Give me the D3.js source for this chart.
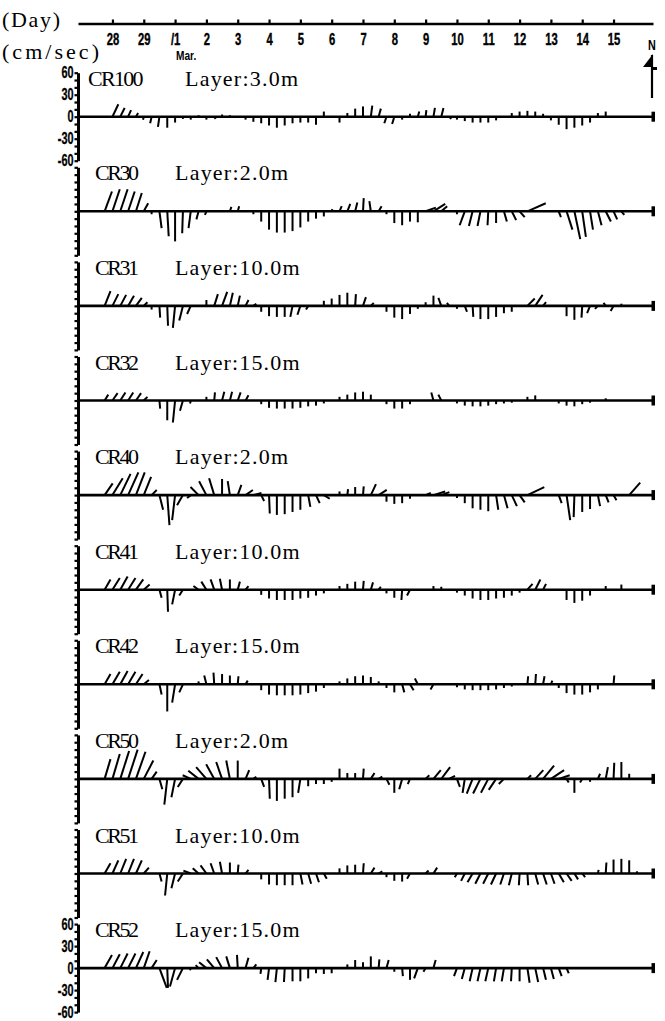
<!DOCTYPE html>
<html>
<head>
<meta charset="utf-8">
<script src="https://cdn.jsdelivr.net/npm/d3@7"></script>
<style>
body { margin: 0; background: #fff; }
svg { display: block; }
.num { font-family: "Liberation Sans", Arial, sans-serif; font-weight: bold; }
.serif { font-family: "Liberation Serif", "DejaVu Serif", serif; }
</style>
</head>
<body>
<svg></svg>
<script>
// days on the top axis (0 = 28 Feb)
let dayTicks = d3.range(0, 17)
let dayLabels = ['28', '29', '/1', '2', '3', '4', '5', '6', '7', '8', '9', '10', '11', '12', '13', '14', '15']

let stations = ['CR100', 'CR30', 'CR31', 'CR32', 'CR40', 'CR41', 'CR42', 'CR50', 'CR51', 'CR52']
let layers = ['3.0', '2.0', '10.0', '15.0', '2.0', '10.0', '15.0', '2.0', '10.0', '15.0']
let speedTicks = [60, 30, 0, -30, -60]

// current vectors: [6-hour step from 27 Feb 00h, east cm/s, north cm/s]
let cr100 = [[4,8,17],[5,6,12],[6,4,9],[7,3,5],[8,-1,-4],[9,-2,-9],[10,-2,-14],[11,0,-15],[12,0,-8],[13,0,-3],[14,0,-4],[15,0,2],[16,0,-4],[17,2,-3],[18,0,3],[19,0,2],[21,0,-4],[22,0,-7],[23,0,-9],[24,0,-12],[25,0,-15],[26,0,-12],[27,0,-9],[28,0,-8],[29,0,-8],[30,0,-11],[31,0,7],[33,0,-8],[34,0,5],[35,0,11],[36,0,14],[37,2,15],[38,3,11],[39,-3,-9],[40,-3,-10],[41,0,-4],[42,0,4],[43,2,7],[44,1,9],[45,2,12],[46,3,12],[47,3,-3],[48,0,-4],[49,0,-6],[50,0,-8],[51,0,-8],[52,0,-8],[53,0,-5],[55,0,5],[56,0,7],[57,0,8],[58,0,7],[59,0,4],[60,0,-5],[61,0,-11],[62,0,-17],[63,0,-15],[64,0,-12],[65,0,-8],[66,0,5],[67,0,7]]
let cr30 = [[3,10,27],[4,10,30],[5,10,30],[6,9,27],[7,8,25],[8,6,11],[9,0,-4],[10,3,-23],[11,2,-34],[12,0,-41],[13,-1,-30],[14,-3,-23],[15,-3,-11],[16,-2,-5],[19,2,6],[20,2,7],[22,0,-4],[23,0,-14],[24,0,-25],[25,0,-29],[26,0,-29],[27,0,-27],[28,0,-22],[29,0,-14],[30,0,-10],[31,0,-7],[32,1,3],[33,3,7],[34,4,10],[35,3,12],[36,1,18],[37,-2,14],[38,4,7],[39,0,-4],[40,0,-16],[41,0,-19],[42,0,-14],[43,0,-15],[44,14,5],[45,16,10],[46,8,7],[48,0,-4],[49,-7,-19],[50,-5,-20],[51,-4,-20],[52,-1,-19],[53,0,-16],[54,4,-14],[55,6,-12],[56,7,-8],[57,25,11],[61,3,-8],[62,8,-25],[63,8,-38],[64,5,-35],[65,4,-25],[66,5,-19],[67,7,-14],[68,5,-11],[69,4,-5]]
let cr31 = [[3,8,20],[4,8,16],[5,8,15],[6,8,14],[7,8,11],[8,5,5],[9,0,-5],[10,1,-16],[11,1,-27],[12,-3,-30],[13,-5,-20],[14,-5,-11],[16,0,8],[17,5,16],[18,7,19],[19,4,18],[20,3,14],[21,4,8],[22,4,3],[23,0,-8],[24,0,-14],[25,0,-15],[26,0,-15],[27,-3,-15],[28,-4,-12],[29,-3,-5],[31,0,7],[32,0,10],[33,0,15],[34,0,18],[35,1,16],[36,4,12],[37,4,4],[39,0,-8],[40,0,-16],[41,0,-18],[42,0,-11],[43,0,-4],[44,0,5],[45,0,14],[46,-4,11],[47,-3,4],[48,0,-4],[49,3,-8],[50,1,-15],[51,0,-18],[52,0,-18],[53,0,-15],[54,0,-10],[55,0,-8],[57,10,10],[58,10,15],[59,4,5],[62,0,-14],[63,0,-19],[64,-1,-16],[65,-4,-10],[66,-4,-4],[67,-3,4],[68,-4,-7],[69,0,3]]
let cr32 = [[3,5,8],[4,7,10],[5,7,11],[6,7,11],[7,7,10],[8,5,5],[10,1,-11],[11,0,-27],[12,-3,-30],[13,-4,-14],[14,-1,-4],[16,0,5],[17,1,11],[18,3,12],[19,3,12],[20,4,11],[21,4,7],[23,0,-5],[24,0,-10],[25,0,-11],[26,0,-11],[27,0,-11],[28,0,-10],[29,0,-8],[30,0,-7],[31,0,-4],[33,0,5],[34,0,8],[35,0,11],[36,0,12],[37,0,8],[39,0,-5],[40,0,-11],[41,0,-11],[42,0,-5],[45,-3,11],[46,-4,8],[48,0,-4],[49,0,-7],[50,0,-8],[51,0,-8],[52,0,-7],[53,0,-5],[54,0,-4],[55,0,-3],[57,0,5],[58,0,7],[61,0,-4],[62,0,-7],[63,0,-8],[64,0,-5],[65,0,-3],[67,0,3]]
let cr40 = [[3,11,16],[4,14,23],[5,14,29],[6,14,31],[7,12,31],[8,10,25],[9,7,7],[10,5,-20],[11,3,-41],[12,-4,-34],[13,-8,-14],[14,-5,-4],[15,-11,11],[16,-10,19],[17,-7,23],[18,0,22],[19,-3,19],[20,5,14],[21,10,7],[22,11,3],[23,4,-8],[24,1,-25],[25,0,-27],[26,0,-26],[27,0,-23],[28,0,-20],[29,3,-16],[30,5,-11],[31,8,-5],[33,0,5],[34,1,8],[35,0,11],[36,1,12],[37,7,15],[38,11,7],[39,0,-9],[40,0,-12],[41,0,-11],[42,0,-5],[44,7,3],[45,16,5],[46,11,4],[48,0,-4],[49,0,-11],[50,0,-18],[51,0,-20],[52,0,-22],[53,3,-20],[54,5,-18],[55,7,-15],[56,7,-10],[57,23,11],[61,4,-11],[62,5,-34],[63,-1,-30],[64,0,-23],[65,0,-19],[66,3,-15],[67,4,-10],[68,4,-7],[70,15,17]]
let cr41 = [[3,8,14],[4,10,16],[5,10,18],[6,10,16],[7,10,14],[8,8,7],[10,3,-11],[11,1,-30],[12,-4,-20],[13,-5,-8],[15,-7,5],[16,-7,11],[17,-5,14],[18,-3,15],[19,0,14],[20,3,11],[21,4,5],[23,0,-7],[24,0,-12],[25,0,-14],[26,0,-14],[27,0,-14],[28,0,-12],[29,0,-11],[30,0,-8],[31,0,-5],[33,0,5],[34,0,8],[35,0,11],[36,1,12],[37,3,10],[38,3,4],[39,0,-5],[40,0,-11],[41,-1,-14],[42,-4,-8],[45,0,5],[46,0,4],[48,0,-4],[49,0,-8],[50,0,-12],[51,0,-14],[52,0,-14],[53,0,-12],[54,0,-11],[55,0,-8],[56,0,-4],[57,7,8],[58,7,14],[59,4,8],[62,0,-14],[63,0,-18],[64,0,-15],[65,0,-8],[67,0,5],[69,0,7]]
let cr42 = [[3,8,14],[4,10,17],[5,10,18],[6,10,17],[7,9,14],[8,7,6],[10,3,-14],[11,0,-37],[12,-4,-25],[13,-5,-11],[15,0,4],[16,-3,12],[17,-1,16],[18,0,14],[19,0,12],[20,1,11],[21,3,5],[23,0,-8],[24,0,-14],[25,0,-15],[26,0,-15],[27,0,-15],[28,0,-14],[29,0,-12],[30,0,-10],[31,0,-5],[33,0,4],[34,0,8],[35,0,11],[36,0,12],[37,0,10],[38,0,4],[39,0,-5],[40,0,-11],[41,3,-11],[42,5,-8],[43,-4,8],[45,-4,-7],[48,0,-4],[49,0,-7],[50,0,-8],[51,0,-8],[52,0,-8],[53,0,-7],[54,0,-5],[55,0,-3],[57,1,11],[58,1,14],[59,2,11],[60,2,5],[61,0,-5],[62,0,-12],[63,0,-14],[64,0,-14],[65,0,-11],[66,0,-7],[68,1,12]]
let cr50 = [[3,8,27],[4,10,34],[5,12,38],[6,13,40],[7,13,37],[8,13,25],[9,7,10],[10,4,-14],[11,-4,-35],[12,-5,-25],[13,-7,-11],[14,-11,5],[15,-14,11],[16,-14,16],[17,-11,20],[18,-8,23],[19,-5,25],[20,0,25],[21,5,12],[22,4,3],[23,4,-11],[24,1,-27],[25,0,-30],[26,0,-27],[27,0,-25],[28,-3,-19],[29,0,-10],[30,0,-7],[31,0,-7],[32,0,-4],[33,0,14],[34,0,8],[35,0,8],[36,1,14],[37,5,8],[38,5,3],[39,4,-8],[40,0,-19],[41,-4,-14],[42,-3,-7],[44,5,5],[45,10,12],[46,12,16],[47,8,4],[48,4,-11],[49,-3,-19],[50,-8,-20],[51,-10,-20],[52,-10,-19],[53,-10,-15],[54,-7,-7],[57,5,5],[58,11,12],[59,15,18],[60,18,12],[61,15,5],[62,3,-5],[63,0,-19],[64,-3,-5],[65,0,-4],[66,3,7],[67,3,16],[68,1,22],[69,0,23],[70,0,7]]
let cr51 = [[3,8,14],[4,8,18],[5,8,20],[6,8,20],[7,8,18],[8,7,8],[10,3,-11],[11,-3,-30],[12,-5,-20],[13,-7,-11],[14,-10,4],[15,-8,7],[16,-8,11],[17,-5,14],[18,-3,16],[19,0,15],[20,1,12],[21,4,5],[23,0,-8],[24,0,-15],[25,0,-16],[26,0,-16],[27,0,-16],[28,3,-15],[29,4,-14],[30,4,-12],[31,4,-7],[33,0,7],[34,0,11],[35,0,12],[36,1,14],[37,5,8],[38,5,3],[39,0,-5],[40,0,-10],[41,0,-11],[42,-4,-7],[44,4,4],[45,5,8],[48,-3,-5],[49,-5,-10],[50,-7,-12],[51,-7,-14],[52,-7,-14],[53,-7,-15],[54,-5,-15],[55,-4,-16],[56,-1,-16],[57,1,-16],[58,4,-15],[59,5,-15],[60,5,-14],[61,7,-12],[62,7,-10],[63,5,-8],[64,4,-5],[66,1,5],[67,1,15],[68,0,19],[69,0,20],[70,0,18],[71,0,3]]
let cr52 = [[3,10,18],[4,10,19],[5,10,20],[6,10,20],[7,10,22],[8,8,23],[9,7,11],[10,10,-27],[11,1,-27],[12,-7,-25],[13,-8,-16],[14,-1,-3],[15,-4,4],[16,-10,8],[17,-10,12],[18,-8,15],[19,-5,16],[20,-1,18],[21,4,14],[22,4,5],[23,-1,-8],[24,-2,-16],[25,-2,-19],[26,-1,-19],[27,0,-18],[28,0,-18],[29,0,-14],[30,0,-7],[31,0,-8],[32,0,-7],[34,0,5],[35,0,11],[36,0,8],[37,0,16],[38,1,12],[39,3,11],[40,0,-5],[41,1,-11],[42,0,-16],[43,-5,-14],[44,-3,-5],[45,3,11],[48,-4,-11],[49,-4,-15],[50,-4,-18],[51,-4,-18],[52,-4,-18],[53,-3,-18],[54,-3,-18],[55,-1,-18],[56,0,-18],[57,3,-20],[58,4,-19],[59,4,-16],[60,4,-15],[61,4,-11],[62,3,-7]]

let series = [cr100, cr30, cr31, cr32, cr40, cr41, cr42, cr50, cr51, cr52]

let width = 665
let height = 1021
let half = 44 // pixels for 60 cm/sec

let svg = d3.select('svg')
    .attr('width', width)
    .attr('height', height)

let xScale = d3.scaleLinear()
    .domain([-1.1, 17.26])
    .range([78, 653])

// zero line of each panel
let panelScale = d3.scaleLinear()
    .domain([0, stations.length - 1])
    .range([116.7, 968.1])

let stepToDay = (step) => -1 + step * 0.25

// top day axis, ticks above the line and labels below
let dayAxis = d3.axisBottom(xScale)
    .tickValues(dayTicks)
    .tickFormat((d, i) => dayLabels[i])
    .tickSize(-4)
    .tickSizeOuter(0)
    .tickPadding(9)

let dayG = svg.append('g')
    .attr('transform', 'translate(0, 23.5)')
    .call(dayAxis)
dayG.select('.domain').attr('stroke-width', 2.5)
dayG.selectAll('.tick line').attr('stroke-width', 2.2)
dayG.selectAll('.tick text')
    .attr('class', 'num')
    .style('font-size', '17px')
    .attr('stroke', '#000')
    .attr('stroke-width', 0.4)
    .attr('transform', 'scale(0.66,1)')

dayG.selectAll('.endbar')
    .data(xScale.range())
    .enter()
    .append('rect')
    .attr('x', d => d - 1.5)
    .attr('y', -5)
    .attr('width', 3)
    .attr('height', 10)

svg.append('text')
    .attr('class', 'num')
    .style('font-size', '13px')
    .attr('transform', 'translate(' + (xScale(2) + 11) + ',60) scale(0.78,1)')
    .attr('text-anchor', 'middle')
    .text('Mar.')

svg.append('text')
    .attr('class', 'serif')
    .attr('font-size', 22)
    .attr('x', 2)
    .attr('y', 27)
    .attr('textLength', 58)
    .attr('lengthAdjust', 'spacing')
    .text('(Day)')

svg.append('text')
    .attr('class', 'serif')
    .attr('font-size', 22)
    .attr('x', 2)
    .attr('y', 59)
    .attr('textLength', 97)
    .attr('lengthAdjust', 'spacing')
    .text('(cm/sec)')

// north arrow
let north = svg.append('g')
north.append('text')
    .attr('class', 'num')
    .style('font-size', '15px')
    .attr('transform', 'translate(652,50) scale(0.72,1)')
    .attr('text-anchor', 'middle')
    .text('N')
north.append('line')
    .attr('x1', 652).attr('x2', 652)
    .attr('y1', 55).attr('y2', 98)
    .attr('stroke', '#000')
    .attr('stroke-width', 2.2)
north.append('path')
    .attr('d', 'M653,54 L643,67 L657,67 L657,70 L653,70 Z')
    .attr('fill', '#000')

stations.forEach((name, j) => {
    let base = panelScale(j)
    let yScale = d3.scaleLinear()
        .domain([-60, 60])
        .range([base + half, base - half])
    let zero = yScale(0)
    let labelled = j === 0 || j === stations.length - 1

    let yAxis = d3.axisLeft(yScale)
        .tickValues(d3.range(-60, 61, 10))
        .tickSize(3.5)
        .tickSizeOuter(0)
        .tickPadding(3)
        .tickFormat(d => labelled && speedTicks.includes(d) ? d : '')

    let g = svg.append('g')
        .attr('transform', 'translate(' + xScale.range()[0] + ', 0)')
        .call(yAxis)
    g.select('.domain').attr('stroke-width', 3)
    g.selectAll('.tick line').attr('stroke-width', 2.2)
    g.selectAll('.tick text')
        .attr('class', 'num')
        .style('font-size', '16px')
        .attr('stroke', '#000')
        .attr('stroke-width', 0.3)
        .attr('transform', 'scale(0.68,1)')

    // zero line
    svg.append('line')
        .attr('x1', xScale.range()[0])
        .attr('x2', xScale.range()[1])
        .attr('y1', zero)
        .attr('y2', zero)
        .attr('stroke', '#000')
        .attr('stroke-width', 2.6)
    svg.append('rect')
        .attr('x', xScale.range()[1] - 1.5)
        .attr('y', zero - 5)
        .attr('width', 3.5)
        .attr('height', 10)

    // sticks
    svg.append('g')
        .selectAll('line')
        .data(series[j])
        .enter()
        .append('line')
        .attr('x1', d => xScale(stepToDay(d[0])))
        .attr('y1', zero)
        .attr('x2', d => xScale(stepToDay(d[0])) + (zero - yScale(d[1])))
        .attr('y2', d => yScale(d[2]))
        .attr('stroke', '#000')
        .attr('stroke-width', 2)

    let nameX = j === 0 ? 88 : 95
    let layerX = j === 0 ? 185 : 175
    let layerText = 'Layer:' + layers[j] + 'm'
    svg.append('text')
        .attr('class', 'serif')
        .attr('font-size', 22)
        .attr('x', nameX)
        .attr('y', base - 31)
        .attr('textLength', name.length * 11.5 - 2)
        .attr('lengthAdjust', 'spacing')
        .text(name)
    svg.append('text')
        .attr('class', 'serif')
        .attr('font-size', 22)
        .attr('x', layerX)
        .attr('y', base - 31)
        .attr('textLength', layerText.length * 11.5 - 2)
        .attr('lengthAdjust', 'spacing')
        .text(layerText)
})
</script>
</body>
</html>
